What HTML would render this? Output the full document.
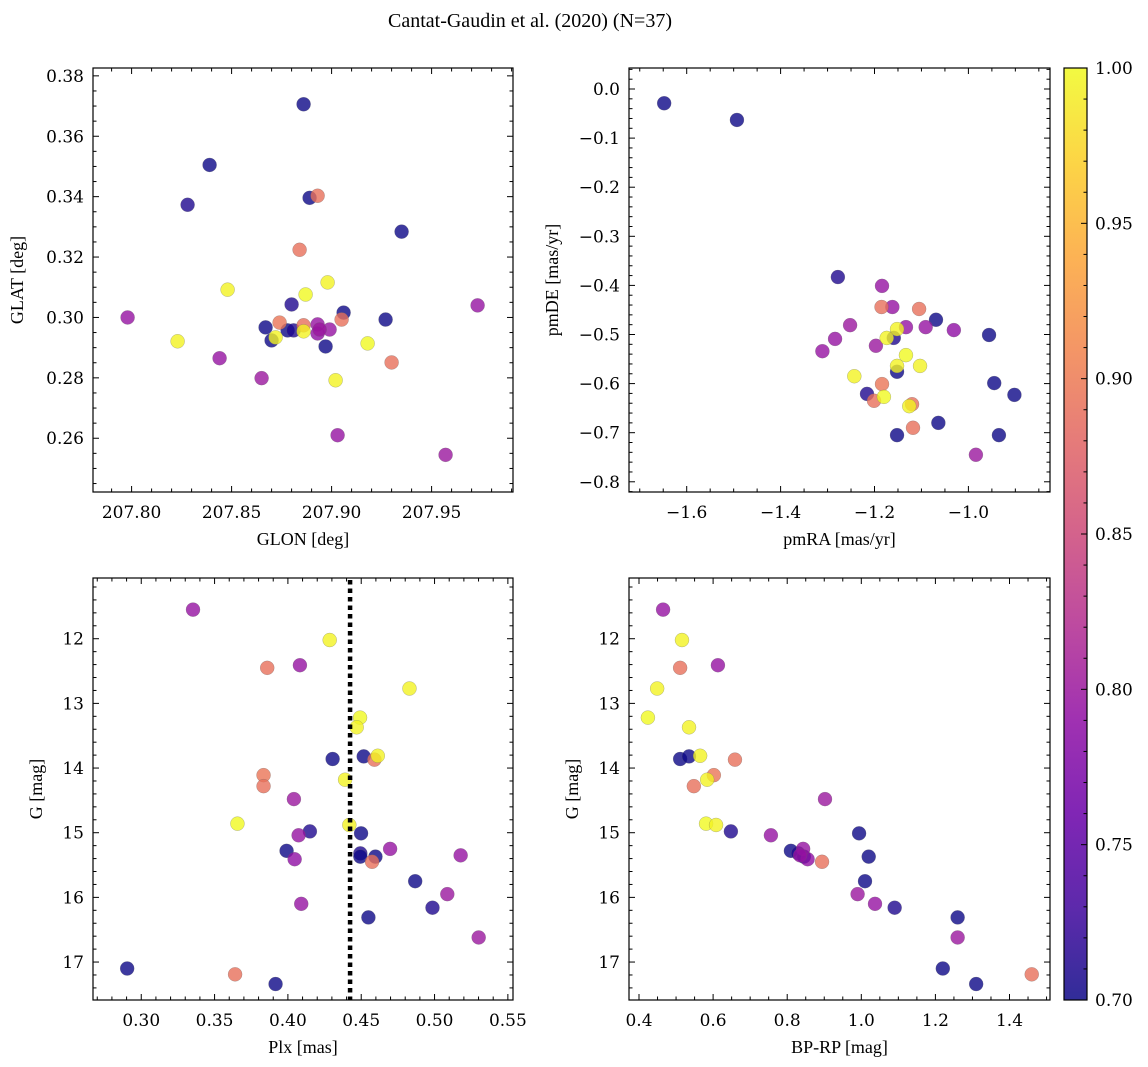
<!DOCTYPE html>
<html><head><meta charset="utf-8"><style>
body{margin:0;background:#fff;}
svg{display:block;}
.tl{font-family:"DejaVu Serif",serif;font-size:17px;fill:#000;}
.al{font-family:"Liberation Serif",serif;font-size:18px;fill:#000;}
</style></head><body>
<svg id="fig" width="1148" height="1067" viewBox="0 0 1148 1067" xmlns="http://www.w3.org/2000/svg">
<defs><linearGradient id="plasma" x1="0" y1="1" x2="0" y2="0">
<stop offset="0" stop-color="#0d0887"/><stop offset="0.1" stop-color="#41049d"/><stop offset="0.2" stop-color="#6a00a8"/><stop offset="0.3" stop-color="#8f0da4"/><stop offset="0.4" stop-color="#b12a90"/><stop offset="0.5" stop-color="#cc4778"/><stop offset="0.6" stop-color="#e16462"/><stop offset="0.7" stop-color="#f2844b"/><stop offset="0.8" stop-color="#fca636"/><stop offset="0.9" stop-color="#fcce25"/><stop offset="1" stop-color="#f0f921"/>
</linearGradient></defs>
<text x="530" y="27" text-anchor="middle" class="al" style="font-size:20px">Cantat-Gaudin et al. (2020) (N=37)</text>
</svg>
<script>
// ---- data (per star): Blue group, Purple group, Salmon group, Yellow group ----
const glon=[207.886,207.839,207.828,207.889,207.935,207.880,207.867,207.870,207.878,207.881,207.897,207.906,207.927,
207.798,207.844,207.865,207.893,207.893,207.899,207.903,207.957,207.973,207.894,
207.893,207.884,207.874,207.886,207.905,207.930,
207.848,207.898,207.887,207.823,207.872,207.886,207.918,207.902];
const glat=[0.3706,0.3505,0.3373,0.3396,0.3284,0.3043,0.2967,0.2924,0.2957,0.2957,0.2904,0.3016,0.2993,
0.300,0.2865,0.2799,0.2977,0.2947,0.296,0.261,0.2545,0.304,0.296,
0.3403,0.3224,0.2983,0.2974,0.2993,0.2851,
0.3092,0.3116,0.3076,0.2921,0.2934,0.2954,0.2914,0.2792];
const pmra=[-1.648,-1.493,-1.278,-1.069,-0.956,-1.159,-1.152,-0.945,-0.902,-1.216,-1.064,-1.152,-0.935,
-1.184,-1.162,-1.252,-1.091,-1.031,-1.133,-1.284,-1.197,-1.311,-0.984,
-1.185,-1.105,-1.184,-1.201,-1.120,-1.118,
-1.152,-1.174,-1.133,-1.152,-1.103,-1.243,-1.180,-1.126];
const pmde=[-0.029,-0.063,-0.383,-0.470,-0.501,-0.507,-0.576,-0.599,-0.623,-0.621,-0.680,-0.705,-0.705,
-0.401,-0.444,-0.481,-0.485,-0.491,-0.485,-0.509,-0.523,-0.534,-0.745,
-0.444,-0.448,-0.601,-0.635,-0.642,-0.690,
-0.489,-0.507,-0.542,-0.564,-0.564,-0.585,-0.627,-0.646];
const plx=[0.4305,0.4517,0.4150,0.4499,0.3991,0.4494,0.4494,0.4597,0.4868,0.4986,0.4549,0.2904,0.3916,
0.3353,0.4082,0.4041,0.4073,0.4046,0.4697,0.5178,0.5087,0.4091,0.5301,
0.3859,0.4590,0.3834,0.3834,0.4574,0.3640,
0.4285,0.4829,0.4492,0.4469,0.4613,0.4390,0.3656,0.4419];
const gmag=[13.86,13.82,14.98,15.01,15.28,15.32,15.37,15.37,15.75,16.16,16.31,17.10,17.34,
11.55,12.41,14.48,15.04,15.41,15.25,15.35,15.95,16.10,16.62,
12.45,13.87,14.11,14.28,15.45,17.19,
12.02,12.77,13.22,13.37,13.81,14.18,14.86,14.88];
const bprp=[0.511,0.535,0.648,0.994,0.810,0.830,0.845,1.020,1.010,1.090,1.260,1.220,1.310,
0.465,0.613,0.902,0.756,0.855,0.843,0.835,0.990,1.037,1.260,
0.511,0.659,0.602,0.548,0.894,1.460,
0.516,0.449,0.424,0.535,0.565,0.584,0.581,0.608];
const prob=[0.70,0.70,0.71,0.70,0.70,0.71,0.70,0.70,0.70,0.71,0.70,0.70,0.70,
0.795,0.795,0.80,0.795,0.79,0.795,0.795,0.80,0.795,0.80,
0.89,0.89,0.895,0.89,0.89,0.89,
0.995,0.995,1.0,0.995,0.995,0.995,1.0,0.995];
const parallaxCut=0.4424;
const cbTicks=[0.70,0.75,0.80,0.85,0.90,0.95,1.00];
const cbLabels=["0.70","0.75","0.80","0.85","0.90","0.95","1.00"];

const NS="http://www.w3.org/2000/svg";
const svg=document.getElementById('fig');
function mk(tag,attrs,parent){const e=document.createElementNS(NS,tag);for(const k in attrs)e.setAttribute(k,attrs[k]);(parent||svg).appendChild(e);return e;}
const stops=[[13,8,135],[65,4,157],[106,0,168],[143,13,164],[177,42,144],[204,71,120],[225,100,98],[242,132,75],[252,166,54],[252,206,37],[240,249,33]];
function plasma(t){t=Math.max(0,Math.min(1,t));const s=t*10,i=Math.min(9,Math.floor(s)),f=s-i;const a=stops[i],b=stops[i+1];return 'rgb('+a.map((v,k)=>Math.round(v+(b[k]-v)*f)).join(',')+')';}
function fmt(v,d){const s=Math.abs(v).toFixed(d);return (v<-1e-9?'\u2212':'')+s;}

const panels=[
 {name:'glon-glat',x0:93,x1:513,y0:68,y1:492,xmin:207.7807,xmax:207.9907,ymin:0.2422,ymax:0.3826,inv:false,
  xs:glon,ys:glat,xmaj:[207.80,207.85,207.90,207.95],xd:2,xminStep:0.01,ymaj:[0.26,0.28,0.30,0.32,0.34,0.36,0.38],yd:2,yminStep:0.005,
  xl:'GLON [deg]',yl:'GLAT [deg]',ylx:23},
 {name:'pmra-pmde',x0:629,x1:1050,y0:68,y1:492,xmin:-1.7229,xmax:-0.8262,ymin:-0.8208,ymax:0.0428,inv:false,
  xs:pmra,ys:pmde,xmaj:[-1.6,-1.4,-1.2,-1.0],xd:1,xminStep:0.05,ymaj:[0,-0.1,-0.2,-0.3,-0.4,-0.5,-0.6,-0.7,-0.8],yd:1,yminStep:0.02,
  xl:'pmRA [mas/yr]',yl:'pmDE [mas/yr]',ylx:558},
 {name:'plx-g',x0:93,x1:513,y0:578,y1:1000,xmin:0.2671,xmax:0.5535,ymin:11.061,ymax:17.587,inv:true,
  xs:plx,ys:gmag,xmaj:[0.30,0.35,0.40,0.45,0.50,0.55],xd:2,xminStep:0.01,ymaj:[12,13,14,15,16,17],yd:0,yminStep:0.2,
  xl:'Plx [mas]',yl:'G [mag]',ylx:42},
 {name:'bprp-g',x0:629,x1:1050,y0:578,y1:1000,xmin:0.373,xmax:1.5093,ymin:11.061,ymax:17.587,inv:true,
  xs:bprp,ys:gmag,xmaj:[0.4,0.6,0.8,1.0,1.2,1.4],xd:1,xminStep:0.05,ymaj:[12,13,14,15,16,17],yd:0,yminStep:0.2,
  xl:'BP-RP [mag]',yl:'G [mag]',ylx:578}
];

panels.forEach(p=>{
  const g=mk('g',{});
  
  
  const sx=v=>p.x0+(v-p.xmin)/(p.xmax-p.xmin)*(p.x1-p.x0);
  const sy=v=>p.inv? p.y0+(v-p.ymin)/(p.ymax-p.ymin)*(p.y1-p.y0) : p.y1-(v-p.ymin)/(p.ymax-p.ymin)*(p.y1-p.y0);
  const pg=mk('g',{},g);
  for(let i=0;i<p.xs.length;i++){
    const c=mk('circle',{cx:sx(p.xs[i]),cy:sy(p.ys[i]),r:7,fill:plasma((prob[i]-0.7)/0.3),'fill-opacity':0.8,stroke:'#666','stroke-width':0.4,'stroke-opacity':0.6},pg);
    
    
  }
  if(p.name==='plx-g'){
    const l=mk('line',{x1:sx(parallaxCut),x2:sx(parallaxCut),y1:p.y0+2,y2:p.y1,stroke:'#000','stroke-width':4.5,'stroke-dasharray':'4.5 4'},g);
    
    
  }
  const tg=mk('g',{stroke:'#000','stroke-width':1},g);
  const eps=1e-6;
  const lo=Math.min(p.xmin,p.xmax),hi=Math.max(p.xmin,p.xmax);
  for(let v=Math.ceil(lo/p.xminStep-eps)*p.xminStep; v<=hi; v+=p.xminStep){
    const X=sx(v);const major=p.xmaj.some(m=>Math.abs(m-v)<p.xminStep/10);const L=major?6:3.5;
    mk('line',{x1:X,x2:X,y1:p.y1,y2:p.y1-L},tg);mk('line',{x1:X,x2:X,y1:p.y0,y2:p.y0+L},tg);
  }
  for(let v=Math.ceil(p.ymin/p.yminStep-eps)*p.yminStep; v<=p.ymax; v+=p.yminStep){
    const Y=sy(v);const major=p.ymaj.some(m=>Math.abs(m-v)<p.yminStep/10);const L=major?6:3.5;
    mk('line',{x1:p.x0,x2:p.x0+L,y1:Y,y2:Y},tg);mk('line',{x1:p.x1,x2:p.x1-L,y1:Y,y2:Y},tg);
  }
  mk('rect',{x:p.x0,y:p.y0,width:p.x1-p.x0,height:p.y1-p.y0,fill:'none',stroke:'#000','stroke-width':1.2},g);
  p.xmaj.forEach(v=>{const t=mk('text',{x:sx(v),y:p.y1+26,'text-anchor':'middle',class:'tl'},g);t.textContent=fmt(v,p.xd);
    });
  p.ymaj.forEach(v=>{const t=mk('text',{x:p.x0-9,y:sy(v)+6,'text-anchor':'end',class:'tl'},g);t.textContent=fmt(v,p.yd);
    });
  const xt=mk('text',{x:(p.x0+p.x1)/2,y:p.y1+53,'text-anchor':'middle',class:'al'},g);xt.textContent=p.xl;
  
  const cy=(p.y0+p.y1)/2;
  const yt=mk('text',{x:p.ylx,y:cy,'text-anchor':'middle',class:'al',transform:'rotate(-90 '+p.ylx+' '+cy+')'},g);yt.textContent=p.yl;
  
});

const cb=mk('g',{});


const cbx0=1064,cbx1=1087,cby0=68,cby1=1000;
mk('rect',{x:cbx0,y:cby0,width:cbx1-cbx0,height:cby1-cby0,fill:'url(#plasma)','fill-opacity':0.85},cb);
mk('rect',{x:cbx0,y:cby0,width:cbx1-cbx0,height:cby1-cby0,fill:'none',stroke:'#000','stroke-width':1.2},cb);
const cs=v=>cby1-(v-0.70)/0.30*(cby1-cby0);
for(let v=0.70;v<=1.0001;v+=0.01){const Y=cs(v);const major=Math.abs(Math.round(v*20)-v*20)<0.01;
  mk('line',{x1:cbx1,x2:cbx1-(major?6:3.5),y1:Y,y2:Y,stroke:'#000','stroke-width':1},cb);}
cbTicks.forEach((v,i)=>{const t=mk('text',{x:cbx1+8,y:cs(v)+6,class:'tl'},cb);t.textContent=cbLabels[i];
  });
</script>
</body></html>
